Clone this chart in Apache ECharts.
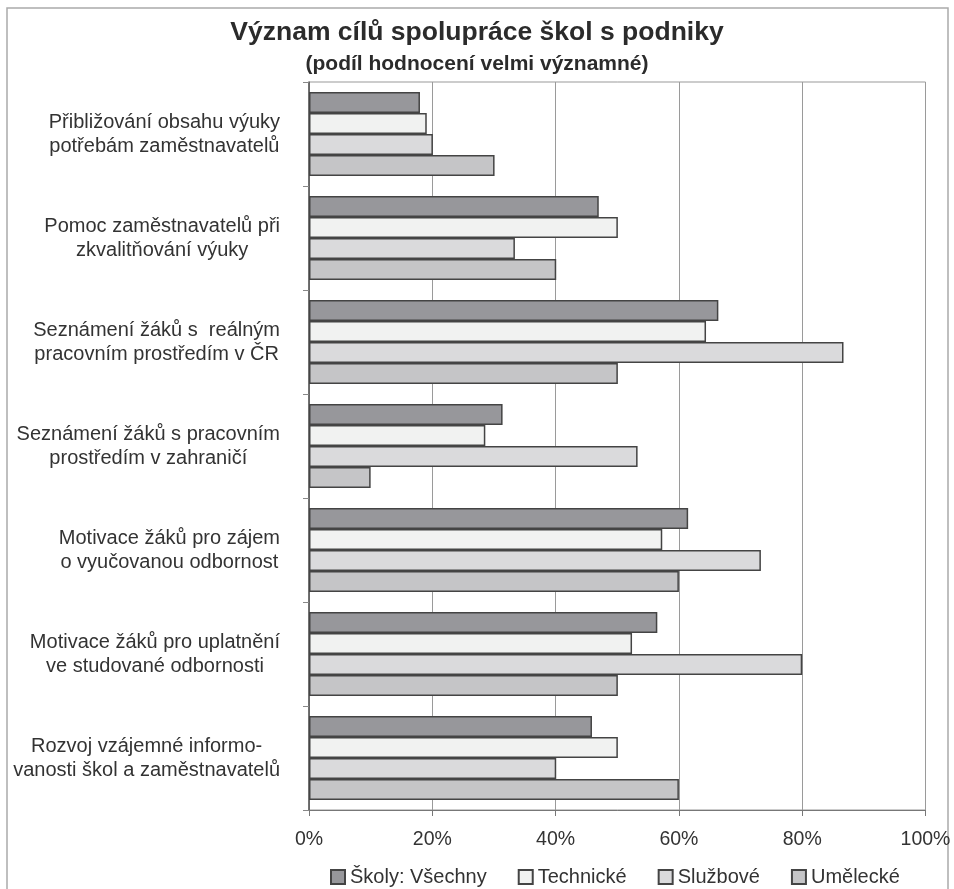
<!DOCTYPE html>
<html>
<head>
<meta charset="utf-8">
<script src="https://cdn.jsdelivr.net/npm/echarts@6/dist/echarts.min.js"></script>
<style>
  html, body { margin: 0; padding: 0; background: #fff; }
  #chartDom { width: 954px; height: 889px; }
</style>
</head>
<body>
<div id="chartDom"></div>
<script>
// categories (top to bottom)
const categories = [
  'Přibližování obsahu výuky\npotřebám zaměstnavatelů',
  'Pomoc zaměstnavatelů při\nzkvalitňování výuky',
  'Seznámení žáků s  reálným\npracovním prostředím v ČR',
  'Seznámení žáků s pracovním\nprostředím v zahraničí',
  'Motivace žáků pro zájem\no vyučovanou odbornost',
  'Motivace žáků pro uplatnění\nve studované odbornosti',
  'Rozvoj vzájemné informo-\nvanosti škol a zaměstnavatelů'
];
const seriesNames = ['Školy: Všechny', 'Technické', 'Službové', 'Umělecké'];
const vsechny = [18, 47, 66.4, 31.4, 61.5, 56.5, 45.9];
const technicke = [19.1, 50.1, 64.4, 28.6, 57.3, 52.4, 50.1];
const sluzbove = [20.1, 33.4, 86.7, 53.3, 73.3, 80, 40.1];
const umelecke = [30.1, 40.1, 50.1, 10, 60, 50.1, 60];
const xTicks = [0, 20, 40, 60, 80, 100];

const colors = ['#97979b', '#f1f2f1', '#dadadc', '#c5c5c7'];
const font = "'Liberation Sans', Arial, sans-serif";

var myChart = echarts.init(document.getElementById('chartDom'));

const dataList = [vsechny, technicke, sluzbove, umelecke];
const series = seriesNames.map((name, i) => ({
  name: name,
  type: 'bar',
  data: dataList[i],
  barWidth: 21,
  barGap: '0%',
  itemStyle: { color: colors[i], borderColor: '#444', borderWidth: 1.5 },
  emphasis: { disabled: true }
}));

const option = {
  animation: false,
  textStyle: { fontFamily: font },
  graphic: [{
    type: 'rect',
    shape: { x: 7, y: 8, width: 941, height: 900 },
    style: { fill: 'none', stroke: '#aaa', lineWidth: 1.5 },
    silent: true
  }],
  title: {
    text: 'Význam cílů spolupráce škol s podniky',
    subtext: '(podíl hodnocení velmi významné)',
    left: 'center',
    top: 14,
    itemGap: 8,
    textStyle: { fontFamily: font, fontSize: 26.5, fontWeight: 'bold', color: '#2b2b2b' },
    subtextStyle: { fontFamily: font, fontSize: 21, fontWeight: 'bold', color: '#2b2b2b' }
  },
  legend: {
    data: seriesNames,
    left: 325,
    top: 862,
    icon: 'rect',
    itemWidth: 14,
    itemHeight: 14,
    itemGap: 31,
    textStyle: { fontFamily: font, fontSize: 20, color: '#333' }
  },
  grid: {
    left: 309,
    right: 28.5,
    top: 82,
    bottom: 79,
    show: true,
    borderColor: '#999',
    borderWidth: 1
  },
  xAxis: {
    type: 'value',
    min: 0,
    max: 100,
    interval: 20,
    axisLine: { show: true, lineStyle: { color: '#777', width: 1 } },
    axisTick: { show: true, length: 6, lineStyle: { color: '#777' } },
    axisLabel: {
      formatter: v => xTicks.includes(v) ? v + '%' : '',
      fontFamily: font, fontSize: 19.5, color: '#333', margin: 20
    },
    splitLine: { show: true, lineStyle: { color: '#9a9a9a', width: 1 } }
  },
  yAxis: {
    type: 'category',
    data: categories,
    inverse: true,
    axisLine: { show: true, lineStyle: { color: '#555', width: 1.5 } },
    axisTick: { show: true, length: 6, lineStyle: { color: '#888' } },
    axisLabel: {
      margin: 29,
      formatter: v => v.split('\n').map(s => '{c|' + s + '}').join('\n'),
      rich: {
        c: { align: 'center', fontFamily: font, fontSize: 20, color: '#333', lineHeight: 24 }
      }
    },
    splitLine: { show: false }
  },
  series: series
};

myChart.setOption(option);
</script>
</body>
</html>
